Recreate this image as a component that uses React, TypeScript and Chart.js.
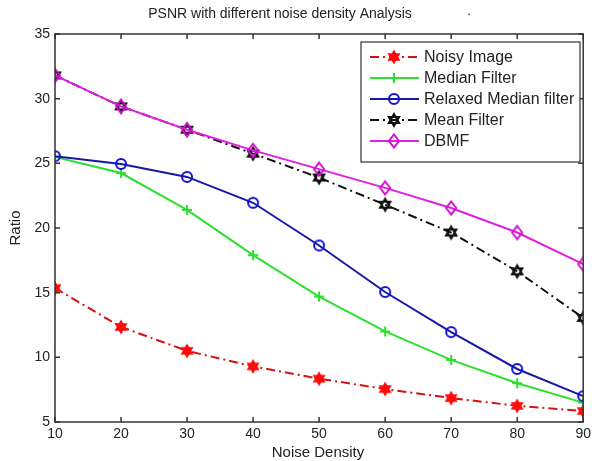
import React, { useEffect, useRef } from "react";
import { Chart, registerables } from "chart.js";

Chart.register(...registerables);

const noiseDensity = [10, 20, 30, 40, 50, 60, 70, 80, 90];
const noisyImage = [15.35, 12.35, 10.5, 9.3, 8.35, 7.55, 6.85, 6.25, 5.85];
const medianFilter = [25.5, 24.25, 21.4, 17.9, 14.7, 12.0, 9.8, 8.0, 6.5];
const relaxedMedian = [25.55, 24.95, 23.95, 21.95, 18.65, 15.05, 11.95, 9.1, 7.0];
const meanFilter = [31.8, 29.4, 27.6, 25.75, 23.9, 21.8, 19.65, 16.65, 13.05];
const dbmf = [31.8, 29.4, 27.6, 26.0, 24.55, 23.1, 21.55, 19.65, 17.2];
const yTicks = [5, 10, 15, 20, 25, 30, 35];
const seriesLabels = ["Noisy Image", "Median Filter", "Relaxed Median filter", "Mean Filter", "DBMF"];

const FONT = "'Liberation Sans', Arial, sans-serif";

type MarkerKind = "star6fill" | "plus" | "circle" | "hex" | "diamond";

function drawMarker(ctx: CanvasRenderingContext2D, kind: MarkerKind, x: number, y: number, color: string) {
  ctx.save();
  ctx.strokeStyle = color;
  ctx.fillStyle = color;
  ctx.lineWidth = 2;
  ctx.setLineDash([]);
  const hexPath = (r: number) => {
    ctx.beginPath();
    for (let t = 0; t < 2; t++) {
      for (let i = 0; i < 3; i++) {
        const a = -Math.PI / 2 + t * Math.PI + (i * 2 * Math.PI) / 3;
        const px = x + r * Math.cos(a);
        const py = y + r * Math.sin(a);
        if (i === 0) ctx.moveTo(px, py);
        else ctx.lineTo(px, py);
      }
      ctx.closePath();
    }
  };
  if (kind === "star6fill") {
    hexPath(6);
    ctx.fill();
    ctx.lineWidth = 1.5;
    ctx.stroke();
  } else if (kind === "hex") {
    hexPath(6);
    ctx.stroke();
  } else if (kind === "plus") {
    ctx.beginPath();
    ctx.moveTo(x - 5, y);
    ctx.lineTo(x + 5, y);
    ctx.moveTo(x, y - 5);
    ctx.lineTo(x, y + 5);
    ctx.stroke();
  } else if (kind === "circle") {
    ctx.beginPath();
    ctx.arc(x, y, 5, 0, Math.PI * 2);
    ctx.stroke();
  } else if (kind === "diamond") {
    ctx.beginPath();
    ctx.moveTo(x, y - 6.5);
    ctx.lineTo(x + 5, y);
    ctx.lineTo(x, y + 6.5);
    ctx.lineTo(x - 5, y);
    ctx.closePath();
    ctx.stroke();
  }
  ctx.restore();
}

function markerCanvas(kind: MarkerKind, color: string) {
  const c = document.createElement("canvas");
  c.width = 18;
  c.height = 18;
  const ctx = c.getContext("2d")!;
  drawMarker(ctx, kind, 9, 9, color);
  return c;
}

const seriesStyles = [
  { line: "#d81010", marker: "#ff0a0a", dash: [9, 4, 2, 4], kind: "star6fill" as MarkerKind },
  { line: "#2ee02e", marker: "#2ee02e", dash: [] as number[], kind: "plus" as MarkerKind },
  { line: "#1818a8", marker: "#1010d0", dash: [] as number[], kind: "circle" as MarkerKind },
  { line: "#111111", marker: "#111111", dash: [9, 4, 2, 4], kind: "hex" as MarkerKind },
  { line: "#e020e0", marker: "#d010d0", dash: [] as number[], kind: "diamond" as MarkerKind },
];

const decorPlugin = {
  id: "decor",
  afterDraw(chart: any) {
    const ctx: CanvasRenderingContext2D = chart.ctx;
    const { left, right, top, bottom } = chart.chartArea;
    const xs = chart.scales.x;
    const ys = chart.scales.y;
    ctx.save();
    // frame
    ctx.strokeStyle = "#333333";
    ctx.lineWidth = 1.5;
    ctx.setLineDash([]);
    ctx.strokeRect(left, top, right - left, bottom - top);
    // inward ticks
    ctx.beginPath();
    const tl = 5;
    noiseDensity.forEach((v) => {
      const px = xs.getPixelForValue(v);
      ctx.moveTo(px, bottom);
      ctx.lineTo(px, bottom - tl);
      ctx.moveTo(px, top);
      ctx.lineTo(px, top + tl);
    });
    yTicks.forEach((v) => {
      const py = ys.getPixelForValue(v);
      ctx.moveTo(left, py);
      ctx.lineTo(left + tl, py);
      ctx.moveTo(right, py);
      ctx.lineTo(right - tl, py);
    });
    ctx.stroke();

    // title
    ctx.fillStyle = "#222222";
    ctx.font = `14px ${FONT}`;
    ctx.textAlign = "center";
    ctx.textBaseline = "middle";
    ctx.fillText("PSNR with different noise density Analysis", 280, 14);
    ctx.fillText("·", 469, 14);
    // axis titles
    ctx.font = `15px ${FONT}`;
    ctx.fillText("Noise Density", 318, 453);
    ctx.save();
    ctx.translate(16, 228);
    ctx.rotate(-Math.PI / 2);
    ctx.fillText("Ratio", 0, 0);
    ctx.restore();

    // legend
    const bx = 361, by = 42, bw = 219, bh = 120;
    ctx.fillStyle = "#ffffff";
    ctx.fillRect(bx, by, bw, bh);
    ctx.strokeStyle = "#333333";
    ctx.lineWidth = 1.2;
    ctx.strokeRect(bx, by, bw, bh);
    ctx.font = `16px ${FONT}`;
    ctx.textAlign = "left";
    ctx.fillStyle = "#222222";
    chart.data.datasets.forEach((ds: any, i: number) => {
      const st = seriesStyles[i];
      const cy = 57 + i * 21;
      ctx.save();
      ctx.strokeStyle = st.line;
      ctx.lineWidth = 2;
      ctx.setLineDash(st.dash);
      ctx.beginPath();
      ctx.moveTo(370, cy);
      ctx.lineTo(419, cy);
      ctx.stroke();
      ctx.restore();
      drawMarker(ctx, st.kind, 394, cy, st.marker);
      ctx.fillStyle = "#222222";
      ctx.fillText(ds.label, 424, cy + 1);
    });
    ctx.restore();
  },
};

export default function App() {
  const ref = useRef<HTMLCanvasElement | null>(null);
  useEffect(() => {
    if (!ref.current) return;
    const allValues = [noisyImage, medianFilter, relaxedMedian, meanFilter, dbmf];
    const chart = new Chart(ref.current, {
      type: "line",
      data: {
        datasets: allValues.map((vals, i) => {
          const st = seriesStyles[i];
          return {
            label: seriesLabels[i],
            data: noiseDensity.map((x, j) => ({ x, y: vals[j] })),
            borderColor: st.line,
            borderWidth: 2,
            borderDash: st.dash,
            pointStyle: markerCanvas(st.kind, st.marker) as any,
            pointRadius: 6,
            backgroundColor: "transparent",
            tension: 0,
            fill: false,
            order: allValues.length - 1 - i,
          };
        }),
      },
      plugins: [decorPlugin],
      options: {
        animation: false,
        responsive: true,
        maintainAspectRatio: false,
        layout: { padding: { left: 0, right: 8, top: 34, bottom: 0 } },
        plugins: {
          legend: { display: false },
          title: { display: false },
          tooltip: { enabled: false },
        },
        scales: {
          x: {
            type: "linear",
            min: 10,
            max: 90,
            afterFit: (s: any) => {
              s.height = 39;
            },
            afterBuildTicks: (s: any) => {
              s.ticks = noiseDensity.map((v) => ({ value: v }));
            },
            grid: { display: false, drawTicks: false },
            border: { display: false },
            ticks: {
              padding: 4,
              color: "#222222",
              font: { family: FONT, size: 14 },
              maxRotation: 0,
            },
          },
          y: {
            type: "linear",
            min: 5,
            max: 35,
            afterFit: (s: any) => {
              s.width = 55;
            },
            afterBuildTicks: (s: any) => {
              s.ticks = yTicks.map((v) => ({ value: v }));
            },
            grid: { display: false, drawTicks: false },
            border: { display: false },
            ticks: {
              padding: 5,
              color: "#222222",
              font: { family: FONT, size: 14 },
            },
          },
        },
      },
    });
    return () => chart.destroy();
  }, []);
  return (
    <div style={{ position: "fixed", left: 0, top: 0, width: 595, height: 461, background: "#ffffff" }}>
      <canvas ref={ref} width={595} height={461} />
    </div>
  );
}
